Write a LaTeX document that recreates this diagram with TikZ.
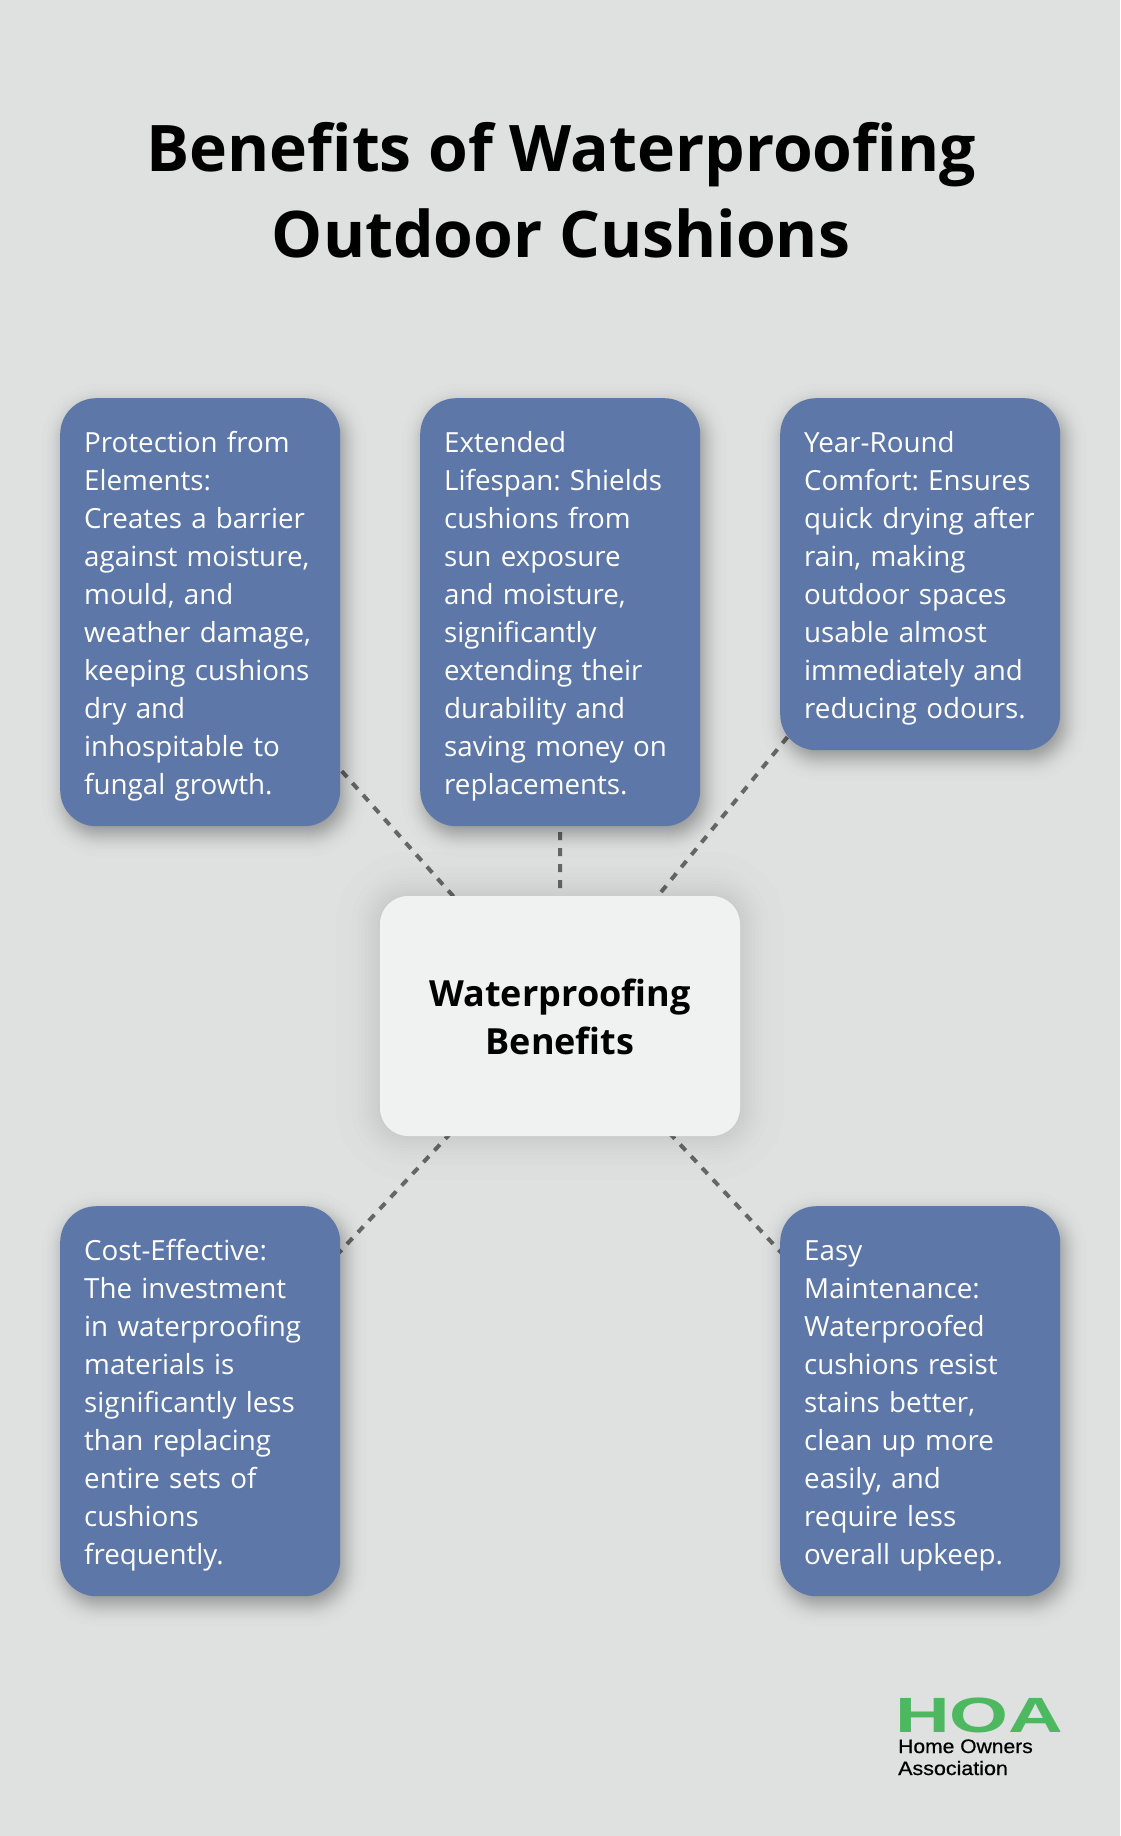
\documentclass[tikz,border=0pt]{standalone}
\usepackage{fontspec}
\usepackage{graphicx}
\setmainfont{Open Sans}
\newfontfamily\logofont[FakeBold=0.6]{Liberation Sans}
\newfontfamily\logobold{Liberation Sans Bold}
\definecolor{pagebg}{HTML}{DEE1E0}
\definecolor{cardblue}{HTML}{5D77A9}
\definecolor{hubfill}{HTML}{F0F2F1}
\definecolor{linkgrey}{HTML}{666666}
\definecolor{logogreen}{HTML}{4DB860}
\pgfdeclarelayer{bg}
\pgfdeclarelayer{shad}
\pgfsetlayers{bg,shad,main}
\hyphenpenalty=10000\relax
\newcommand{\ls}{\rule[-8.2pt]{0pt}{38pt}}
\newcommand{\shadowlayer}[6]{%
  \pgfmathsetmacro{\dd}{#6*#4}
  \pgfmathsetmacro{\rr}{max(1,#5+\dd)}
  \fill[black,fill opacity=0.0085,rounded corners=\rr pt]
    ([xshift={#2-\dd},yshift={-(#3)+\dd}]#1.north west) rectangle
    ([xshift={#2+\dd},yshift={-(#3)-\dd}]#1.south east);}
\newcommand{\softshadow}[5]{% node, dx, dy, sigma, radius: 40 layers
  \foreach \q in {2.24,1.78,1.53,1.36,1.21,1.09,.98,.89,.80,.71,.64,.56,.49,.42,.35,.29,.22,.16,.09,.03,-.03,-.09,-.16,-.22,-.29,-.35,-.42,-.49,-.56,-.64,-.71,-.80,-.89,-.98,-1.09,-1.21,-1.36,-1.53,-1.78,-2.24}{
    \shadowlayer{#1}{#2}{#3}{#4}{#5}{\q}
  }}
\newcommand{\faintshadow}[5]{% node, dx, dy, sigma, radius: 20 layers
  \foreach \q in {2.2,1.44,1.15,.93,.755,.6,.454,.319,.189,.063,-.063,-.189,-.319,-.454,-.6,-.755,-.93,-1.15,-1.44,-1.96}{
    \shadowlayer{#1}{#2}{#3}{#4}{#5}{\q}
  }}
\tikzset{
  card/.style={anchor=north west,fill=cardblue,text=white,rounded corners=36pt,
    inner xsep=24pt,inner ysep=24pt,text width=232pt,align=left,
    font=\fontsize{27.75}{38}\selectfont\frenchspacing},
  hub/.style={fill=hubfill,text=black,rounded corners=28pt,minimum width=360pt,
    minimum height=240pt,align=center,inner sep=0pt,
    font=\fontsize{36}{48}\selectfont\bfseries},
  link/.style={draw=linkgrey,line width=4pt,dash pattern=on 8pt off 8pt},
  titletext/.style={anchor=north,align=center,inner sep=0pt,text=black,
    font=\fontsize{64.25}{86}\selectfont\bfseries},
}
\begin{document}
\begin{tikzpicture}[x=1pt,y=-1pt]
\useasboundingbox (0,0) rectangle (1120,1836);
\begin{pgfonlayer}{bg}
  \fill[pagebg] (0,0) rectangle (1120,1836);
\end{pgfonlayer}

\node[titletext] (title) at (561,122) {Benefits of Waterproofing\\Outdoor Cushions};

\node[card] (c1) at (60,398) {\ls Protection from\\Elements:\\Creates a barrier\\against moisture,\\mould, and\\weather damage,\\keeping cushions\\dry and\\inhospitable to\\fungal growth.\ls};
\node[card] (c2) at (420,398) {\ls Extended\\Lifespan: Shields\\cushions from\\sun exposure\\and moisture,\\significantly\\extending their\\durability and\\saving money on\\replacements.\ls};
\node[card] (c3) at (780,398) {\ls Year-Round\\Comfort: Ensures\\quick drying after\\rain, making\\outdoor spaces\\usable almost\\immediately and\\reducing odours.\ls};
\node[card] (c4) at (60,1206) {\ls Cost-Effective:\\The investment\\in waterproofing\\materials is\\significantly less\\than replacing\\entire sets of\\cushions\\frequently.\ls};
\node[card] (c5) at (780,1206) {\ls Easy\\Maintenance:\\Waterproofed\\cushions resist\\stains better,\\clean up more\\easily, and\\require less\\overall upkeep.\ls};
\node[hub] (hub) at (560,1016) {\rule{0pt}{29.5pt}Waterproofing\\Benefits};

\begin{pgfonlayer}{bg}
  \foreach \n in {c1,c2,c3,c4,c5}{
    \draw[link] (hub.center) -- (\n.center);
  }
\end{pgfonlayer}
\begin{pgfonlayer}{shad}
  \foreach \n in {c1,c2,c3,c4,c5}{
    \softshadow{\n}{4}{8}{10}{36}
  }
  \faintshadow{hub}{0}{0}{20}{28}
\end{pgfonlayer}

\node[anchor=base west,inner sep=0pt,text=logogreen] (hoa) at (895,1732)
  {\scalebox{1.53}[1.0]{\logobold\fontsize{49.5}{50}\selectfont HOA}};
\node[anchor=base west,inner sep=0pt,text=black] (home) at (898,1753)
  {\scalebox{1.08}[1.0]{\logofont\fontsize{19.5}{22}\selectfont Home Owners}};
\node[anchor=base west,inner sep=0pt,text=black] (assoc) at (898,1775)
  {\scalebox{1.1}[1.0]{\logofont\fontsize{19.5}{22}\selectfont Association}};
\end{tikzpicture}
\end{document}
